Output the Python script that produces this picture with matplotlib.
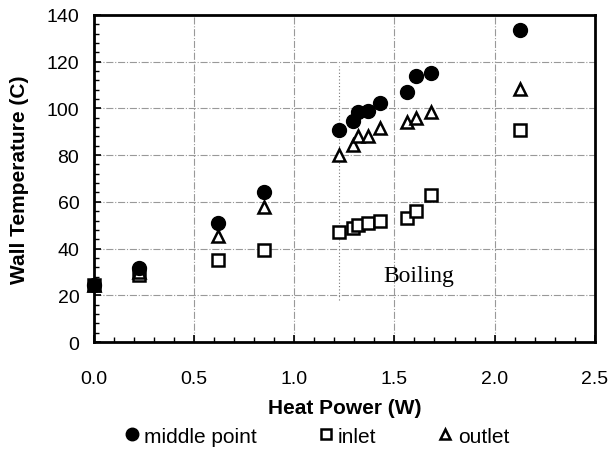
import matplotlib
matplotlib.use("Agg")
import matplotlib.pyplot as plt
from matplotlib.ticker import MultipleLocator
from matplotlib.lines import Line2D

# readings
heat_power = [0.0, 0.227, 0.617, 0.847, 1.222, 1.293, 1.317, 1.368, 1.427, 1.563, 1.61, 1.683, 2.127]
middle_point = [24.5, 31.5, 51.0, 64.3, 90.9, 94.7, 98.6, 99.0, 102.3, 106.9, 114.0, 115.2, 133.4]
inlet = [24.5, 28.7, 35.3, 39.5, 47.2, 48.7, 50.1, 50.9, 51.9, 53.0, 56.0, 62.9, 90.9]
outlet = [24.5, 30.0, 45.5, 57.7, 80.0, 84.3, 88.0, 88.3, 91.5, 94.3, 95.8, 98.3, 108.3]

boiling_x = 1.222
boiling_span = [18, 118]

plt.rcParams['font.family'] = ['Liberation Sans', 'DejaVu Sans']

fig = plt.figure(figsize=(6.1, 4.52), dpi=100)
ax = fig.add_axes([0.154, 0.241, 0.821, 0.724])

ax.plot(heat_power, inlet, 's', ms=8, mfc='white', mec='black', mew=1.8, ls='none',
        zorder=3, clip_on=False)
ax.plot(heat_power, outlet, '^', ms=8, mfc='white', mec='black', mew=1.8, ls='none',
        zorder=3, clip_on=False)
ax.plot(heat_power, middle_point, 'o', ms=10, mfc='black', mec='black', ls='none',
        zorder=4, clip_on=False)

# dotted marker of the boiling onset
ax.plot([boiling_x, boiling_x], boiling_span, color='#777777', lw=0.8, ls=(0, (1, 2)), zorder=1)
ax.text(1.62, 28.5, 'Boiling', family=['Liberation Serif', 'DejaVu Serif'], fontsize=17,
        ha='center', va='center')

ax.set_xlim(0, 2.5)
ax.set_ylim(0, 140)
ax.xaxis.set_major_locator(MultipleLocator(0.5))
ax.xaxis.set_minor_locator(MultipleLocator(0.1))
ax.yaxis.set_major_locator(MultipleLocator(20))
ax.yaxis.set_minor_locator(MultipleLocator(4))
ax.xaxis.set_major_formatter(matplotlib.ticker.FormatStrFormatter('%.1f'))

ax.grid(True, which='major', color='#999999', lw=0.8, ls='-.')
ax.set_axisbelow(True)
for s in ax.spines.values():
    s.set_linewidth(2.0)
ax.tick_params(which='major', direction='in', length=5, width=1.2, labelsize=14)
ax.tick_params(which='minor', direction='in', length=3.5, width=1.0)
ax.tick_params(axis='x', pad=20)
ax.tick_params(axis='y', pad=10.5)

ax.set_xlabel('Heat Power (W)', fontsize=15, fontweight='bold', labelpad=8)
ax.set_ylabel('Wall Temperature (C)', fontsize=15, fontweight='bold', labelpad=12.5)

handles = [
    Line2D([], [], marker='o', ls='none', ms=9, mfc='black', mec='black'),
    Line2D([], [], marker='s', ls='none', ms=7, mfc='white', mec='black', mew=1.8),
    Line2D([], [], marker='^', ls='none', ms=7, mfc='white', mec='black', mew=1.8),
]
fig.legend(handles, ['middle point', 'inlet', 'outlet'], loc='center', bbox_to_anchor=(0.52, 0.033),
           ncol=3, frameon=False, fontsize=15, handlelength=0.6, handletextpad=0.3,
           columnspacing=3.0, borderpad=0)

fig.savefig('out.png', dpi=100)
